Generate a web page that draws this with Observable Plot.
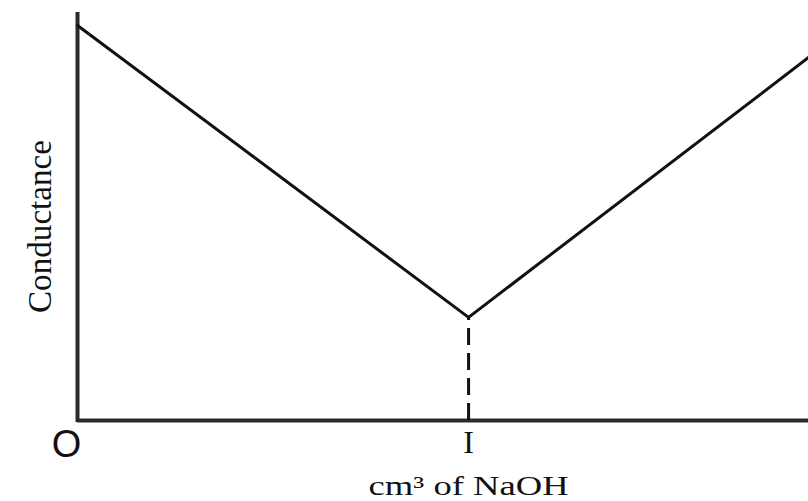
<!DOCTYPE html>
<html>
<head>
<meta charset="utf-8">
<script src="https://cdn.jsdelivr.net/npm/d3@7"></script>
<script src="https://cdn.jsdelivr.net/npm/@observablehq/plot@0.6"></script>
<style>
  html, body { margin: 0; padding: 0; background: #fff; }
</style>
</head>
<body>
<div id="chart"></div>
<script>
// Data (arbitrary units)
const volume = [0, 5.35, 10];            // cm³ of NaOH
const conductance = [9.73, 2.54, 8.94];  // conductance
const equivalencePoint = 5.35;
const xExtent = [0, 10];
const yExtent = [0, 10];
const originLabel = "O";
const equivalenceLabel = "I";
const xLabel = "cm³ of NaOH";
const yLabel = "Conductance";

const curve = volume.map((v, i) => ({ v, c: conductance[i] }));
const minC = d3.min(conductance);

const serif = "'Liberation Serif', 'Times New Roman', serif";
const sans = "'Liberation Sans', Arial, sans-serif";

const chart = Plot.plot({
  width: 808,
  height: 501,
  margin: 0,
  style: { background: "white" },
  x: { domain: xExtent, range: [77, 808], axis: null },
  y: { domain: yExtent, range: [420, 14], axis: null },
  marks: [
    // axes
    Plot.ruleY([0], { x1: xExtent[0], x2: xExtent[1], stroke: "#2a2a2a", strokeWidth: 4 }),
    Plot.ruleX([0], { y1: yExtent[0], y2: yExtent[1], stroke: "#2a2a2a", strokeWidth: 4, strokeLinecap: "square" }),
    // dashed line at equivalence point
    Plot.ruleX([equivalencePoint], { y1: 0, y2: minC, stroke: "#111", strokeWidth: 3, strokeDasharray: "17,8" }),
    // conductance curve
    Plot.line(curve, { x: "v", y: "c", stroke: "#111", strokeWidth: 3 }),
    // labels
    Plot.text([originLabel], { x: xExtent[0], y: yExtent[0], text: d => d, dx: -11, dy: 24, fontSize: 38, fontFamily: sans, fill: "#111" }),
    Plot.text([equivalenceLabel], { x: equivalencePoint, y: yExtent[0], text: d => d, dy: 22, fontSize: 32, fontFamily: serif, fill: "#111" }),
    Plot.text([xLabel], { x: equivalencePoint, y: yExtent[0], text: d => d, dy: 66, fontSize: 27, fontFamily: serif, fill: "#111" }),
    Plot.text([yLabel], { x: xExtent[0], y: (yExtent[0] + yExtent[1]) / 2, text: d => d, dx: -37, dy: 9, rotate: -90, fontSize: 33, fontFamily: serif, fill: "#111" })
  ]
});

d3.select(chart).selectAll("text").filter(function () { return this.textContent === xLabel; })
  .attr("textLength", 200).attr("lengthAdjust", "spacingAndGlyphs");
d3.select(chart).selectAll("text").filter(function () { return this.textContent === yLabel; })
  .attr("textLength", 173).attr("lengthAdjust", "spacingAndGlyphs");

document.getElementById("chart").appendChild(chart);
</script>
</body>
</html>
